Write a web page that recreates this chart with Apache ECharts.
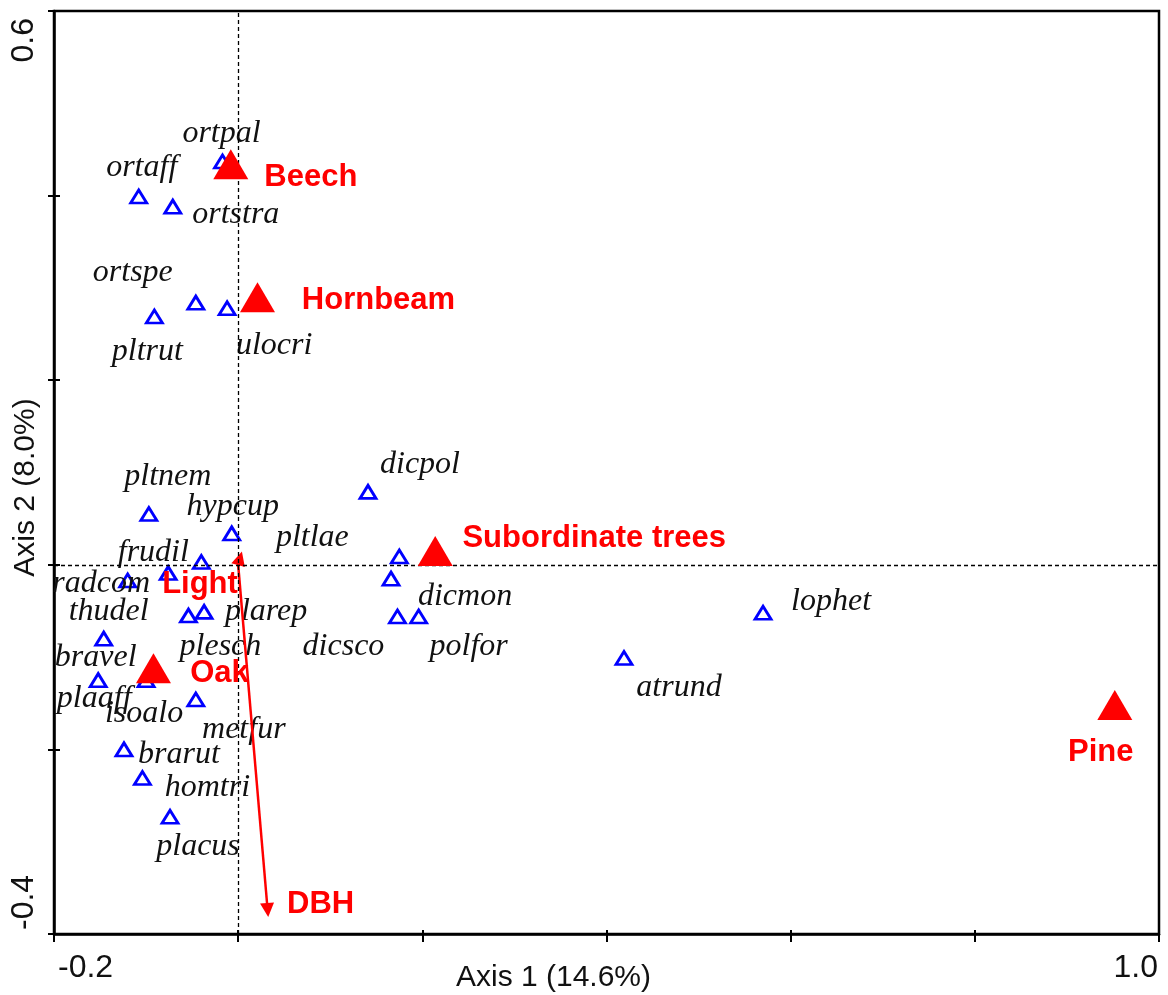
<!DOCTYPE html>
<html>
<head>
<meta charset="utf-8">
<script src="https://cdn.jsdelivr.net/npm/echarts@6/dist/echarts.min.js"></script>
<style>
html,body{margin:0;padding:0;background:#fff;}
#chart{width:1168px;height:995px;}
</style>
</head>
<body>
<div id="chart"></div>
<script>
// ---------------- DATA ----------------
const speciesNames = ['ortpal','ortaff','ortstra','ortspe','pltrut','ulocri','pltnem','hypcup','dicpol','pltlae',
  'dicmon','dicsco','polfor','atrund','lophet','radcom','frudil','thudel','plesch','plarep',
  'bravel','plaaff','isoalo','metfur','brarut','homtri','placus'];
const speciesX = [-0.017,-0.108,-0.071,-0.046,-0.091,-0.012,-0.097,-0.007,0.141,0.175,
  0.166,0.173,0.196,0.419,0.570,-0.076,-0.040,-0.120,-0.054,-0.037,
  -0.146,-0.152,-0.100,-0.046,-0.124,-0.104,-0.074];
const speciesY = [0.437,0.399,0.388,0.284,0.269,0.278,0.055,0.034,0.079,0.009,
  -0.015,-0.056,-0.056,-0.101,-0.052,-0.009,0.003,-0.017,-0.055,-0.051,
  -0.080,-0.125,-0.125,-0.146,-0.200,-0.231,-0.273];

const envNames = ['Beech','Hornbeam','Subordinate trees','Oak','Pine'];
const envX = [-0.008, 0.021, 0.214, -0.092, 0.952];
const envY = [0.434, 0.290, 0.015, -0.112, -0.152];

const vectorNames = ['Light','DBH'];
const vectorX = [0.002, 0.032];
const vectorY = [0.007, -0.374];

const xTickLabels = ['-0.2','1.0'];
const yTickLabels = ['-0.4','0.6'];
const xAxisTitle = 'Axis 1 (14.6%)';
const yAxisTitle = 'Axis 2 (8.0%)';

// ---------------- LAYOUT (label offsets in px) ----------------
const speciesLabelOffsets = [[-1,-28],[3,-29],[63,8],[-63,-30],[-7,35],[47,37],[19,-37],[1,-27],[52,-27],[-87,-19],
  [74,18],[-54,30],[50,30],[55,30],[68,-11],[-67,10],[-48,-9],[-19,31],[32,31],[62,0],
  [-8,19],[-4,18],[-2,33],[48,30],[55,5],[65,10],[28,30]];
const envLabelOffsets = [[80,13],[121,3],[159,-13],[66,5],[-14,47]];
const vectorLabelOffsets = [[-40,26],[53,-6]];

// ---------------- CHART ----------------
const chart = echarts.init(document.getElementById('chart'));

const speciesData = speciesNames.map((n,i)=>({
  name:n, value:[speciesX[i], speciesY[i]], label:{offset:speciesLabelOffsets[i]}
}));
const envData = envNames.map((n,i)=>({
  name:n, value:[envX[i], envY[i]], label:{offset:envLabelOffsets[i]}
}));
const vectorLines = vectorNames.map((n,i)=>({coords:[[0,0],[vectorX[i], vectorY[i]]]}));
const vectorLabelData = vectorNames.map((n,i)=>({
  name:n, value:[vectorX[i], vectorY[i]], label:{offset:vectorLabelOffsets[i]}
}));

const axisFont = 'Liberation Sans, Arial, sans-serif';
const fmt = (list)=>function(v){const s=(Math.abs(v)<1e-9?0:v).toFixed(1);return list.indexOf(s)>=0?s:'';};

const option = {
  animation:false,
  backgroundColor:'#ffffff',
  grid:{left:54, right:9, top:11, bottom:61, containLabel:false, outerBoundsMode:'none',
    show:true, borderColor:'#000', borderWidth:2.5, backgroundColor:'transparent'},
  xAxis:[{
    type:'value', min:-0.2, max:1.0, interval:0.2, position:'bottom',
    name:xAxisTitle, nameLocation:'middle', nameGap:29, nameMoveOverlap:false,
    nameTextStyle:{fontSize:30, fontFamily:axisFont, color:'#111', padding:[0,106,0,0]},
    axisLine:{show:true, onZero:false, lineStyle:{color:'#000', width:2.5}},
    axisTick:{show:true, length:8, lineStyle:{color:'#000', width:2}},
    splitLine:{show:false},
    axisLabel:{
      show:true, fontSize:32, fontFamily:axisFont, color:'#111', margin:18, padding:[0,1,0,4],
      showMinLabel:true, showMaxLabel:true,
      alignMinLabel:'left', alignMaxLabel:'right',
      formatter:fmt(xTickLabels)
    }
  },{
    type:'value', min:-0.2, max:1.0, interval:0.2, position:'bottom',
    axisLine:{show:false, onZero:false},
    axisTick:{show:true, inside:true, length:4, lineStyle:{color:'#000', width:2}},
    splitLine:{show:false}, axisLabel:{show:false}
  }],
  yAxis:[{
    type:'value', min:-0.4, max:0.6, interval:0.2, position:'left',
    name:yAxisTitle, nameLocation:'middle', nameGap:13, nameRotate:90, nameMoveOverlap:false,
    nameTextStyle:{fontSize:30, fontFamily:axisFont, color:'#111', padding:[0,30,0,0]},
    axisLine:{show:true, onZero:false, lineStyle:{color:'#000', width:2.5}},
    axisTick:{show:true, length:6, lineStyle:{color:'#000', width:2}},
    splitLine:{show:false},
    axisLabel:{
      show:true, rotate:90, fontSize:32, fontFamily:axisFont, color:'#111', margin:14, padding:[0,7,0,4],
      showMinLabel:true, showMaxLabel:true,
      alignMinLabel:'left', alignMaxLabel:'right',
      formatter:fmt(yTickLabels)
    }
  },{
    type:'value', min:-0.4, max:0.6, interval:0.2, position:'left',
    axisLine:{show:false, onZero:false},
    axisTick:{show:true, inside:true, length:6, lineStyle:{color:'#000', width:2}},
    splitLine:{show:false}, axisLabel:{show:false}
  }],
  series:[
    {
      type:'scatter', name:'species', z:3,
      symbol:'triangle', symbolSize:[16,13],
      itemStyle:{color:'rgba(255,255,255,0)', borderColor:'#0000ff', borderWidth:2.8, opacity:1},
      label:{show:true, position:'inside', formatter:'{b}', fontFamily:'Liberation Serif, Times New Roman, serif',
        fontStyle:'italic', fontSize:32, color:'#111'},
      emphasis:{disabled:true},
      data:speciesData,
      markLine:{
        silent:true, symbol:['none','none'], label:{show:false},
        lineStyle:{color:'#000', type:[4,3], width:1.3, opacity:1},
        data:[{xAxis:0},{yAxis:0}]
      }
    },
    {
      type:'lines', coordinateSystem:'cartesian2d', z:4,
      symbol:['none','triangle'], symbolSize:14,
      lineStyle:{color:'#ff0000', width:2.5, opacity:1, curveness:0},
      data:vectorLines
    },
    {
      type:'scatter', name:'vectorLabels', z:5,
      symbol:'circle', symbolSize:1,
      itemStyle:{color:'rgba(0,0,0,0)', opacity:1},
      label:{show:true, position:'inside', formatter:'{b}', fontFamily:axisFont, fontWeight:'bold', fontSize:31, color:'#ff0000'},
      emphasis:{disabled:true},
      data:vectorLabelData
    },
    {
      type:'scatter', name:'env', z:6,
      symbol:'triangle', symbolSize:[35,30],
      itemStyle:{color:'#ff0000', opacity:1},
      label:{show:true, position:'inside', formatter:'{b}', fontFamily:axisFont, fontWeight:'bold', fontSize:31, color:'#ff0000'},
      emphasis:{disabled:true},
      data:envData
    }
  ]
};
chart.setOption(option);
</script>
</body>
</html>
